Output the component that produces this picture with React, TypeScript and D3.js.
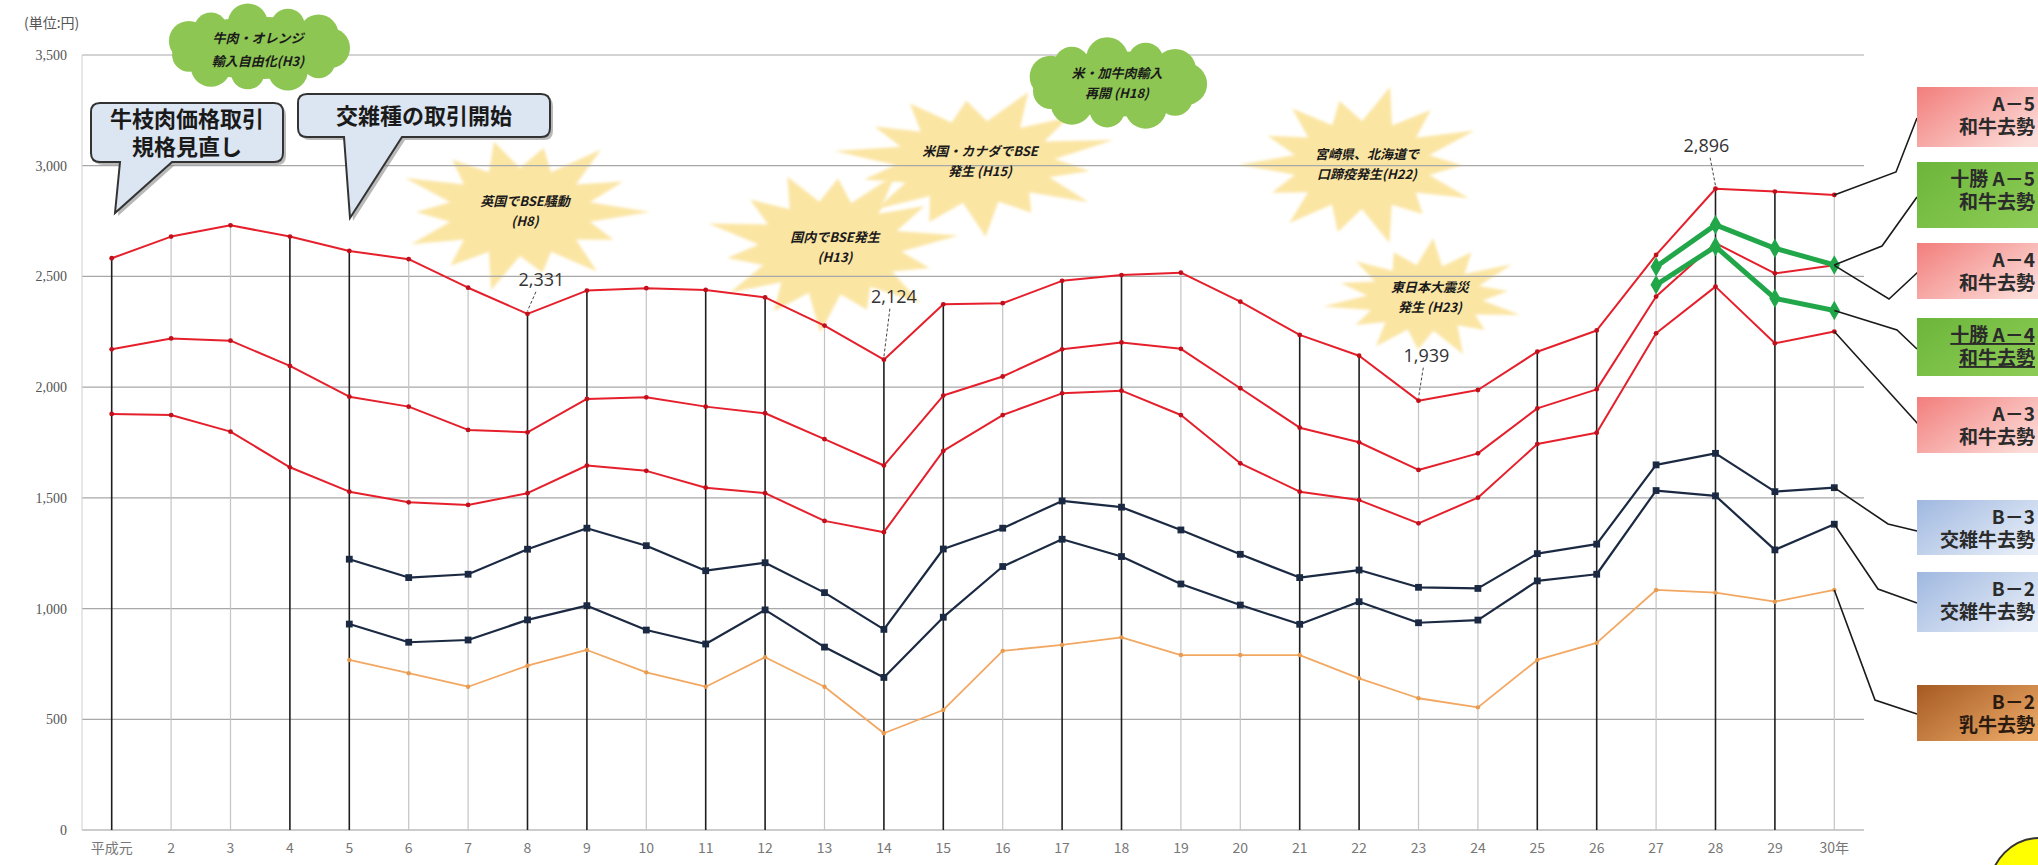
import { useEffect, useRef } from 'react';
import * as d3 from 'd3';

// chart size
const width = 2038;
const height = 865;
const margin = { top: 55, right: 174, bottom: 35, left: 82 };

const categories = ['平成元', '2', '3', '4', '5', '6', '7', '8', '9', '10', '11', '12', '13', '14', '15',
  '16', '17', '18', '19', '20', '21', '22', '23', '24', '25', '26', '27', '28', '29', '30年'];

const yTicks = [0, 500, 1000, 1500, 2000, 2500, 3000, 3500];

// 和牛去勢 A-5 / A-4 / A-3
const a5 = [2582, 2680, 2731, 2680, 2615, 2578, 2449, 2331, 2436, 2447, 2439, 2405, 2278, 2124, 2374,
  2379, 2480, 2506, 2517, 2386, 2236, 2142, 1939, 1987, 2160, 2256, 2597, 2896, 2883, 2868];
const a4 = [2171, 2220, 2210, 2096, 1957, 1912, 1807, 1796, 1947, 1954, 1912, 1882, 1765, 1646, 1962,
  2048, 2171, 2202, 2173, 1995, 1817, 1751, 1626, 1701, 1904, 1990, 2409, 2650, 2514, 2550];
const a3 = [1879, 1874, 1799, 1638, 1528, 1480, 1468, 1521, 1646, 1622, 1546, 1521, 1396, 1345, 1712,
  1874, 1972, 1984, 1874, 1656, 1528, 1490, 1385, 1501, 1743, 1794, 2243, 2454, 2198, 2251];
// 交雑牛去勢 B-3 / B-2 (H5〜)
const b3 = [null, null, null, null, 1223, 1140, 1155, 1268, 1363, 1284, 1171, 1207, 1072, 906, 1269,
  1363, 1486, 1458, 1355, 1245, 1140, 1174, 1096, 1091, 1248, 1291, 1649, 1701, 1528, 1546];
const b2x = [null, null, null, null, 930, 848, 858, 949, 1013, 903, 840, 994, 826, 689, 961,
  1190, 1313, 1235, 1111, 1016, 929, 1031, 936, 948, 1125, 1155, 1533, 1509, 1265, 1381];
// 乳牛去勢 B-2
const b2d = [null, null, null, null, 768, 708, 647, 742, 813, 712, 647, 780, 647, 437, 542,
  809, 836, 870, 790, 790, 790, 685, 595, 554, 768, 845, 1084, 1072, 1031, 1084];
// 十勝 (H27〜)
const tokachiA5 = [null, null, null, null, null, null, null, null, null, null, null, null, null, null, null,
  null, null, null, null, null, null, null, null, null, null, null, 2544, 2733, 2627, 2552];
const tokachiA4 = [null, null, null, null, null, null, null, null, null, null, null, null, null, null, null,
  null, null, null, null, null, null, null, null, null, null, null, 2462, 2635, 2401, 2346];

// years with dark drop lines
const darkDrops = ['平成元', '4', '5', '8', '9', '11', '12', '14', '15', '17', '18', '21', '22', '25', '26', '28', '29'];

// value labels: category, value, label offset
const valueLabels = [
  { cat: '8', value: 2331, dx: 14, dy: -34 },
  { cat: '14', value: 2124, dx: 10, dy: -63 },
  { cat: '23', value: 1939, dx: 8, dy: -45 },
  { cat: '28', value: 2896, dx: -9, dy: -43 },
];

const jp = '"Noto Sans CJK JP", "Noto Sans", sans-serif';

function Canvas() {
  const ref = useRef<SVGSVGElement>(null);

  const drawChart = () => {
    const svg = d3.select(ref.current);
    svg.selectAll('*').remove();

    const x = d3.scaleBand().domain(categories).range([margin.left, width - margin.right]);
    const cx = (c: string) => (x(c) as number) + x.bandwidth() / 2;
    const y = d3.scaleLinear().domain([0, 3500]).range([height - margin.bottom, margin.top]);

    const defs = svg.append('defs');
    defs.append('filter').attr('id', 'soft').append('feGaussianBlur').attr('stdDeviation', 1.6);
    const grad = (id: string, c1: string, c2: string) => {
      const g = defs.append('linearGradient').attr('id', id).attr('x1', '0%').attr('x2', '100%').attr('y1', '0%').attr('y2', '60%');
      g.append('stop').attr('offset', '0%').attr('stop-color', c1);
      g.append('stop').attr('offset', '100%').attr('stop-color', c2);
    };
    grad('pink', '#f27e7c', '#fcdcd8');
    grad('green', '#6cb63a', '#8ccb55');
    grad('blue', '#9fb8e0', '#e8eef8');
    grad('brown', '#a65a22', '#eaa866');

    // starbursts
    const spikes = [1, 0.8, 0.95, 0.78, 1, 0.86, 0.93, 0.8, 0.98, 0.84, 0.9, 0.82, 1, 0.88];
    const bursts = [
      { x: 520, y: 212, rx: 130, ry: 80, t: ['英国でBSE騒動', '(H8)'] },
      { x: 830, y: 248, rx: 130, ry: 85, t: ['国内でBSE発生', '(H13)'] },
      { x: 975, y: 162, rx: 145, ry: 75, t: ['米国・カナダでBSE', '発生 (H15)'] },
      { x: 1362, y: 165, rx: 125, ry: 80, t: ['宮崎県、北海道で', '口蹄疫発生(H22)'] },
      { x: 1425, y: 298, rx: 105, ry: 60, t: ['東日本大震災', '発生 (H23)'] },
    ];
    bursts.forEach((b, bi) => {
      const n = spikes.length;
      const pts: [number, number][] = [];
      for (let i = 0; i < n * 2; i++) {
        const a = (i * Math.PI) / n + bi * 0.3;
        const r = i % 2 === 0 ? spikes[(i / 2 + bi) % n] : 0.55;
        pts.push([b.x + Math.cos(a) * b.rx * r, b.y + Math.sin(a) * b.ry * r]);
      }
      svg.append('polygon')
        .attr('points', pts.map(p => p.join(',')).join(' '))
        .attr('fill', '#fbe5a3')
        .attr('filter', 'url(#soft)');
    });

    // horizontal grid
    svg.append('g').selectAll('line').data(yTicks).enter().append('line')
      .attr('x1', margin.left).attr('x2', width - margin.right)
      .attr('y1', d => y(d)).attr('y2', d => y(d))
      .attr('stroke', d => (d === 0 ? '#9a9a9a' : '#a8a8a8')).attr('stroke-width', 1.2);
    svg.append('line')
      .attr('x1', margin.left).attr('x2', margin.left)
      .attr('y1', y(3500)).attr('y2', y(0)).attr('stroke', '#cfcfcf');

    // drop lines from A-5
    svg.append('g').selectAll('line').data(categories).enter().append('line')
      .attr('x1', d => cx(d)).attr('x2', d => cx(d))
      .attr('y1', (d, i) => y(a5[i])).attr('y2', y(0))
      .attr('stroke', d => (darkDrops.includes(d) ? '#1e1e1e' : '#c4c4c4'))
      .attr('stroke-width', d => (darkDrops.includes(d) ? 1.6 : 1.2));

    // y axis labels
    svg.append('g').selectAll('text').data(yTicks).enter().append('text')
      .attr('x', 67).attr('y', d => y(d) + 5)
      .attr('text-anchor', 'end').attr('font-family', '"Liberation Serif", serif')
      .attr('font-size', 14).attr('fill', '#555')
      .text(d => d3.format(',')(d));
    svg.append('text').attr('x', 24).attr('y', 28).attr('font-family', jp)
      .attr('font-size', 14).attr('fill', '#555').text('(単位:円)');

    // x axis labels
    svg.append('g').selectAll('text').data(categories).enter().append('text')
      .attr('x', d => cx(d)).attr('y', 853)
      .attr('text-anchor', 'middle').attr('font-family', jp)
      .attr('font-size', 14).attr('fill', '#777')
      .text(d => d);

    // series
    const line = d3.line<number | null>()
      .defined(d => d != null)
      .x((d, i) => cx(categories[i]))
      .y(d => y(d as number));

    const series = [
      { data: b2d, color: '#f2a862', w: 1.8, mark: 'dot', r: 2.2 },
      { data: b2x, color: '#1b2a42', w: 2.2, mark: 'square', r: 3.4 },
      { data: b3, color: '#1b2a42', w: 2.2, mark: 'square', r: 3.4 },
      { data: a3, color: '#e5202c', w: 2, mark: 'dot', r: 2.4 },
      { data: a4, color: '#e5202c', w: 2, mark: 'dot', r: 2.4 },
      { data: a5, color: '#e5202c', w: 2, mark: 'dot', r: 2.4 },
      { data: tokachiA4, color: '#22a64a', w: 5, mark: 'diamond', r: 7 },
      { data: tokachiA5, color: '#22a64a', w: 5, mark: 'diamond', r: 7 },
    ];

    series.forEach(s => {
      svg.append('path').datum(s.data).attr('d', line)
        .attr('fill', 'none').attr('stroke', s.color).attr('stroke-width', s.w)
        .attr('stroke-linejoin', 'round');
      const pts = s.data.map((v, i) => ({ v, c: categories[i] })).filter(p => p.v != null);
      const g = svg.append('g');
      if (s.mark === 'square') {
        g.selectAll('rect').data(pts).enter().append('rect')
          .attr('x', p => cx(p.c) - s.r).attr('y', p => y(p.v as number) - s.r)
          .attr('width', s.r * 2).attr('height', s.r * 2).attr('fill', s.color);
      } else if (s.mark === 'diamond') {
        g.selectAll('path').data(pts).enter().append('path')
          .attr('d', d3.symbol(d3.symbolDiamond, 110))
          .attr('transform', p => `translate(${cx(p.c)},${y(p.v as number)})`)
          .attr('fill', s.color);
      } else {
        g.selectAll('circle').data(pts).enter().append('circle')
          .attr('cx', p => cx(p.c)).attr('cy', p => y(p.v as number))
          .attr('r', s.r).attr('fill', s.color === '#e5202c' ? '#c0101c' : '#e89a50');
      }
    });

    // value labels with leaders
    valueLabels.forEach(l => {
      const px = cx(l.cat);
      const py = y(l.value);
      svg.append('line')
        .attr('x1', px + l.dx * 0.6).attr('y1', py + l.dy + 12)
        .attr('x2', px).attr('y2', py - 3)
        .attr('stroke', '#444').attr('stroke-width', 1).attr('stroke-dasharray', '3,2');
      svg.append('text')
        .attr('x', px + l.dx).attr('y', py + l.dy + 6)
        .attr('text-anchor', 'middle').attr('font-family', '"Open Sans", sans-serif')
        .attr('font-size', 18).attr('fill', '#333')
        .text(d3.format(',')(l.value));
    });

    // clouds
    const clouds = [
      { x: 258, y: 48, rx: 100, ry: 40, t: ['牛肉・オレンジ', '輸入自由化(H3)'], ty: [43, 66] },
      { x: 1117, y: 84, rx: 96, ry: 42, t: ['米・加牛肉輸入', '再開 (H18)'], ty: [78, 98] },
    ];
    clouds.forEach(c => {
      const g = svg.append('g').attr('fill', '#8ec653');
      g.append('ellipse').attr('cx', c.x).attr('cy', c.y).attr('rx', c.rx * 0.82).attr('ry', c.ry * 0.78);
      for (let k = 0; k < 11; k++) {
        const a = (k / 11) * Math.PI * 2;
        g.append('circle')
          .attr('cx', c.x + Math.cos(a) * c.rx * 0.72)
          .attr('cy', c.y + Math.sin(a) * c.ry * 0.62)
          .attr('r', c.ry * (k % 2 ? 0.42 : 0.5));
      }
      c.t.forEach((t, i) => {
        svg.append('text').attr('x', c.x).attr('y', c.ty[i])
          .attr('text-anchor', 'middle').attr('font-family', jp)
          .attr('font-size', 13).attr('font-weight', 'bold').attr('font-style', 'italic')
          .attr('fill', '#1a1a1a').text(t);
      });
    });

    bursts.forEach(b => {
      b.t.forEach((t, i) => {
        svg.append('text').attr('x', b.x + 5).attr('y', b.y - 6 + i * 20)
          .attr('text-anchor', 'middle').attr('font-family', jp)
          .attr('font-size', 13).attr('font-weight', 'bold').attr('font-style', 'italic')
          .attr('fill', '#1a1a1a').text(t);
      });
    });

    // speech callouts
    const callouts = [
      { x0: 91, y0: 103, x1: 283, y1: 162, t0: 120, t1: 172, tip: [115, 213], t: ['牛枝肉価格取引', '規格見直し'] },
      { x0: 298, y0: 94, x1: 550, y1: 137, t0: 344, t1: 402, tip: [350, 218], t: ['交雑種の取引開始'] },
    ];
    callouts.forEach(c => {
      const r = 9;
      const p = `M${c.x0 + r},${c.y0} H${c.x1 - r} Q${c.x1},${c.y0} ${c.x1},${c.y0 + r} V${c.y1 - r}
        Q${c.x1},${c.y1} ${c.x1 - r},${c.y1} H${c.t1} L${c.tip[0]},${c.tip[1]} L${c.t0},${c.y1}
        H${c.x0 + r} Q${c.x0},${c.y1} ${c.x0},${c.y1 - r} V${c.y0 + r} Q${c.x0},${c.y0} ${c.x0 + r},${c.y0} Z`;
      svg.append('path').attr('d', p).attr('transform', 'translate(3,3)').attr('fill', '#8a8a8a').attr('opacity', 0.6);
      svg.append('path').attr('d', p).attr('fill', '#dce6f2').attr('stroke', '#333').attr('stroke-width', 2);
      const mid = (c.x0 + c.x1) / 2;
      const lh = 28;
      const top = (c.y0 + c.y1) / 2 - ((c.t.length - 1) * lh) / 2 + 8;
      c.t.forEach((t, i) => {
        svg.append('text').attr('x', mid).attr('y', top + i * lh)
          .attr('text-anchor', 'middle').attr('font-family', jp)
          .attr('font-size', 22).attr('font-weight', 'bold').attr('fill', '#1a1a1a').text(t);
      });
    });

    // legend boxes with leader lines
    const last = categories[categories.length - 1];
    const legend = [
      { l: ['A－5', '和牛去勢'], fill: 'pink', top: 87, h: 60, v: a5, via: [[1896, 172]], end: [1917, 118] },
      { l: ['十勝 A－5', '和牛去勢'], fill: 'green', top: 162, h: 66, v: tokachiA5, via: [[1882, 246]], end: [1917, 197] },
      { l: ['A－4', '和牛去勢'], fill: 'pink', top: 243, h: 56, v: a4, via: [[1889, 299]], end: [1918, 272] },
      { l: ['十勝 A－4', '和牛去勢'], fill: 'green', top: 318, h: 58, v: tokachiA4, via: [[1897, 330]], end: [1917, 349], u: true },
      { l: ['A－3', '和牛去勢'], fill: 'pink', top: 397, h: 56, v: a3, via: [], end: [1918, 424] },
      { l: ['B－3', '交雑牛去勢'], fill: 'blue', top: 500, h: 55, v: b3, via: [[1888, 524]], end: [1917, 531] },
      { l: ['B－2', '交雑牛去勢'], fill: 'blue', top: 572, h: 60, v: b2x, via: [[1878, 589]], end: [1917, 603] },
      { l: ['B－2', '乳牛去勢'], fill: 'brown', top: 685, h: 56, v: b2d, via: [[1875, 700]], end: [1917, 714] },
    ];
    legend.forEach(d => {
      const start: [number, number] = [cx(last), y(d.v[d.v.length - 1] as number)];
      const pts = [start, ...d.via, d.end] as [number, number][];
      svg.append('path').attr('d', d3.line()(pts)).attr('fill', 'none')
        .attr('stroke', '#1a1a1a').attr('stroke-width', 1.6);
      svg.append('rect').attr('x', 1917).attr('y', d.top).attr('width', 140).attr('height', d.h)
        .attr('fill', `url(#${d.fill})`);
      d.l.forEach((t, i) => {
        svg.append('text').attr('x', 2035).attr('y', d.top + 24 + i * 23)
          .attr('text-anchor', 'end').attr('font-family', jp)
          .attr('font-size', 19).attr('font-weight', 'bold')
          .attr('fill', d.fill === 'brown' ? '#2a1a10' : '#2b2b2b')
          .attr('text-decoration', d.u ? 'underline' : null)
          .text(t);
      });
    });

    // yellow circle in the corner
    svg.append('circle').attr('cx', 2040).attr('cy', 888).attr('r', 50)
      .attr('fill', '#ffff00').attr('stroke', '#333').attr('stroke-width', 2);
  };

  useEffect(() => {
    drawChart();
  });

  return (
    <div style={{ position: 'absolute', left: 0, top: 0 }}>
      <svg ref={ref} width={width} height={height} style={{ display: 'block', background: '#fff' }}></svg>
    </div>
  );
}

export default function App() {
  return <Canvas />;
}
